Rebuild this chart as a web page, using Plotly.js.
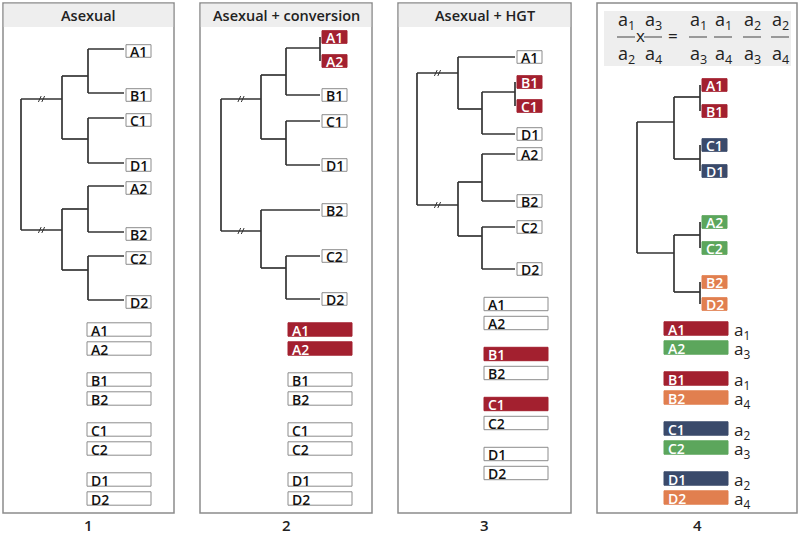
<!DOCTYPE html>
<html><head><meta charset="utf-8">
<script src="https://cdn.plot.ly/plotly-3.0.1.min.js"></script>
<style>html,body{margin:0;padding:0;background:#fff}</style>
</head><body><div id="chart" style="width:800px;height:534px"></div>
<script>
// ================= DATA =================
const panelTitles  = ["Asexual", "Asexual + conversion", "Asexual + HGT"];
const panelNumbers = ["1", "2", "3", "4"];

// Tree tables: node name, parent, depth column, vertical position
const t1Name   = ["r","u","l","AB1","CD1","AB2","CD2","A1","B1","C1","D1","A2","B2","C2","D2"];
const t1Parent = ["","r","r","u","u","l","l","AB1","AB1","CD1","CD1","AB2","AB2","CD2","CD2"];
const t1Level  = [0,1,1,2,2,2,2,3,3,3,3,3,3,3,3];
const t1Y      = [0,99,230,76,139,209,270,49,93,118,163,186,232,256,300];
const t1Color  = {};

const t2Name   = ["r","u","l","AAB","CD1","AA","B2","CD2","A1","A2","B1","C1","D1","C2","D2"];
const t2Parent = ["","r","r","u","u","AAB","l","l","AA","AA","AAB","CD1","CD1","CD2","CD2"];
const t2Level  = [0,1,1,2,2,3,3,2,3,3,3,3,3,3,3];
const t2Y      = [0,99,231,75,139,48,210,268,37,61,95,121,165,256,299];
const t2Color  = {A1:"red", A2:"red"};

const t3Name   = ["r","u","l","BCD","A1","BC","D1","B1","C1","AB2","CD2","A2","B2","C2","D2"];
const t3Parent = ["","r","r","u","u","BCD","BCD","BC","BC","l","l","AB2","AB2","CD2","CD2"];
const t3Level  = [0,1,1,2,3,3,3,3,3,2,2,3,3,3,3];
const t3Y      = [0,73,205,109,57,92,134,82,106,182,236,154,201,227,269];
const t3Color  = {B1:"red", C1:"red"};

const t4Name   = ["r","u","l","AB1","CD1","AC2","BD2","A1","B1","C1","D1","A2","C2","B2","D2"];
const t4Parent = ["","r","r","u","u","l","l","AB1","AB1","CD1","CD1","AC2","AC2","BD2","BD2"];
const t4Level  = [0,1,1,3,3,3,3,3,3,3,3,3,3,3,3];
const t4Y      = [0,122,253,97,159,235,292,85,111,145,171,222,248,282,304];
const t4Color  = {A1:"red",B1:"red",C1:"navy",D1:"navy",A2:"green",C2:"green",B2:"orange",D2:"orange"};

// Bottom allele lists
const listLabels  = ["A1","A2","B1","B2","C1","C2","D1","D2"];
const list1Colors = ["w","w","w","w","w","w","w","w"];
const list2Colors = ["red","red","w","w","w","w","w","w"];
const list3Colors = ["w","w","red","w","red","w","w","w"];
const list4Colors = ["red","green","red","orange","navy","green","navy","orange"];
const list4Allele = ["1","3","1","4","2","3","2","4"];

// Equation in panel 4 header
const eqNum = ["1","3","1","1","2","2"];
const eqDen = ["2","4","3","4","3","4"];
const eqOps = ["x","="];

// ================= LAYOUT / STYLE =================
const FONT = "Open Sans, Noto Sans, DejaVu Sans, sans-serif";
const COL = {w:"#ffffff", red:"#a3202f", navy:"#3a4a6b", green:"#5ca65c", orange:"#e17f4f"};
const LINE = "#333333";
const panelLeft  = [3, 200, 398, 597];
const panelRight = [174, 372, 571, 797];
const panelTop = 3, panelBottom = 513, headerBottom = 27;
const colX = [[21,62,88,124],[221,261,286,320],[417,458,482,515],[637,674,0,700]];
const boxDy = [2, 0, 0, 0];
const listX0 = [87, 288, 484, 664];
const listYBase = [329.5, 348.5, 379.5, 398.5, 429.5, 448.5, 479.5, 498.5];
const listYShift = [0, 0, -25.5, -1];
const eqX = [626, 653, 698, 723, 752, 780];
const eqOpX = [640, 673];

const traces = [], shapes = [], annos = [];

// panels
for (let p = 0; p < 4; p++) {
  shapes.push({type:"rect", xref:"x", yref:"y", layer:"below",
    x0:panelLeft[p], x1:panelRight[p], y0:panelTop, y1:panelBottom,
    line:{color:"#8c8c8c", width:1.5}, fillcolor:"#ffffff"});
  if (p < 3) {
    shapes.push({type:"rect", xref:"x", yref:"y", layer:"below",
      x0:panelLeft[p]+0.8, x1:panelRight[p]-0.8, y0:panelTop+0.8, y1:headerBottom,
      line:{width:0}, fillcolor:"#eeeeee"});
    annos.push({x:(panelLeft[p]+panelRight[p])/2, y:15.5, xref:"x", yref:"y",
      text:panelTitles[p], showarrow:false, xanchor:"center", yanchor:"middle",
      font:{family:FONT, size:14.5, color:"#222", weight:600}});
  } else {
    shapes.push({type:"rect", xref:"x", yref:"y", layer:"below",
      x0:604, x1:791, y0:11, y1:66, line:{width:0}, fillcolor:"#eeeeee"});
  }
  annos.push({x:(panelLeft[p]+panelRight[p])/2, y:525, xref:"x", yref:"y",
    text:panelNumbers[p], showarrow:false, xanchor:"center", yanchor:"middle",
    font:{family:FONT, size:15, color:"#222", weight:600}});
}

function drawTree(p, names, parents, levels, ys, colors, withBreaks) {
  const cx = colX[p];
  const idx = {}; names.forEach((n,i)=>idx[n]=i);
  const xs = [], yy = [];
  const children = {};
  names.forEach((n,i)=>{ if (parents[i]) (children[parents[i]] = children[parents[i]]||[]).push(i); });
  names.forEach((n,i)=>{
    if (parents[i]) {
      const pi = idx[parents[i]];
      xs.push(cx[levels[pi]], cx[levels[i]], null); yy.push(ys[i], ys[i], null);
    }
    if (children[n]) {
      const cy = children[n].map(c=>ys[c]);
      xs.push(cx[levels[i]], cx[levels[i]], null); yy.push(Math.min(...cy), Math.max(...cy), null);
    }
  });
  traces.push({type:"scatter", mode:"lines", x:xs, y:yy, hoverinfo:"skip",
    line:{color:LINE, width:1.7}, showlegend:false});
  if (withBreaks) {
    const bx = [], by = [];
    names.forEach((n,i)=>{
      if (parents[i] === "r") {
        const mx = (cx[0]+cx[1])/2, y = ys[i];
        [-1.7, 1.7].forEach(d=>{ bx.push(mx+d-1.4, mx+d+1.4, null); by.push(y+3, y-3, null); });
      }
    });
    traces.push({type:"scatter", mode:"lines", x:bx, y:by, hoverinfo:"skip",
      line:{color:LINE, width:1}, showlegend:false});
  }
  // leaf boxes
  names.forEach((n,i)=>{
    if (children[n]) return;
    const c = colors[n] || "w";
    const x0 = cx[3] + 2, yc = ys[i] + boxDy[p];
    shapes.push({type:"rect", xref:"x", yref:"y", x0:x0, x1:x0+25, y0:yc-6.3, y1:yc+6.3,
      line:{color: c==="w" ? "#8c8c8c" : COL[c], width:1}, fillcolor:COL[c]});
    annos.push({x:x0+1.5, y:yc+0.5, xref:"x", yref:"y", text:n, showarrow:false,
      xanchor:"left", yanchor:"middle",
      font:{family:FONT, size:14, color: c==="w" ? "#111" : "#fff", weight:600}});
  });
}
drawTree(0, t1Name, t1Parent, t1Level, t1Y, t1Color, true);
drawTree(1, t2Name, t2Parent, t2Level, t2Y, t2Color, true);
drawTree(2, t3Name, t3Parent, t3Level, t3Y, t3Color, true);
drawTree(3, t4Name, t4Parent, t4Level, t4Y, t4Color, false);

// bottom lists
const lists = [list1Colors, list2Colors, list3Colors, list4Colors];
lists.forEach((cols, p)=>{
  listLabels.forEach((lab, i)=>{
    const c = cols[i];
    const yc = listYBase[i] + listYShift[p];
    const x0 = listX0[p];
    shapes.push({type:"rect", xref:"x", yref:"y", x0:x0, x1:x0+64, y0:yc-6.7, y1:yc+6.7,
      line:{color: c==="w" ? "#8c8c8c" : COL[c], width:1}, fillcolor:COL[c]});
    annos.push({x:x0+1.5, y:yc+0.5, xref:"x", yref:"y", text:lab, showarrow:false,
      xanchor:"left", yanchor:"middle",
      font:{family:FONT, size:14, color: c==="w" ? "#111" : "#fff", weight:600}});
    if (p === 3) {
      annos.push({x:x0+68, y:yc+1.5, xref:"x", yref:"y", text:"a<sub>"+list4Allele[i]+"</sub>",
        showarrow:false, xanchor:"left", yanchor:"middle",
        font:{family:FONT, size:17, color:"#222"}});
    }
  });
});

// equation
eqNum.forEach((nm, i)=>{
  shapes.push({type:"line", xref:"x", yref:"y", x0:eqX[i]-9, x1:eqX[i]+9, y0:37, y1:37,
    line:{color:"#444", width:1}});
  annos.push({x:eqX[i], y:36, xref:"x", yref:"y", text:"a<sub>"+nm+"</sub>", showarrow:false,
    xanchor:"center", yanchor:"bottom", font:{family:FONT, size:18, color:"#222"}});
  annos.push({x:eqX[i], y:39, xref:"x", yref:"y", text:"a<sub>"+eqDen[i]+"</sub>", showarrow:false,
    xanchor:"center", yanchor:"top", font:{family:FONT, size:18, color:"#222"}});
});
eqOps.forEach((op, i)=>{
  annos.push({x:eqOpX[i], y:35, xref:"x", yref:"y", text:op, showarrow:false,
    xanchor:"center", yanchor:"middle", font:{family:FONT, size:17, color:"#222"}});
});

const layout = {
  width:800, height:534, margin:{l:0,r:0,t:0,b:0},
  paper_bgcolor:"#ffffff", plot_bgcolor:"#ffffff", showlegend:false,
  xaxis:{range:[0,800], visible:false, fixedrange:true},
  yaxis:{range:[534,0], visible:false, fixedrange:true},
  shapes:shapes, annotations:annos
};
Plotly.newPlot("chart", traces, layout, {displayModeBar:false, staticPlot:true});
</script></body></html>
